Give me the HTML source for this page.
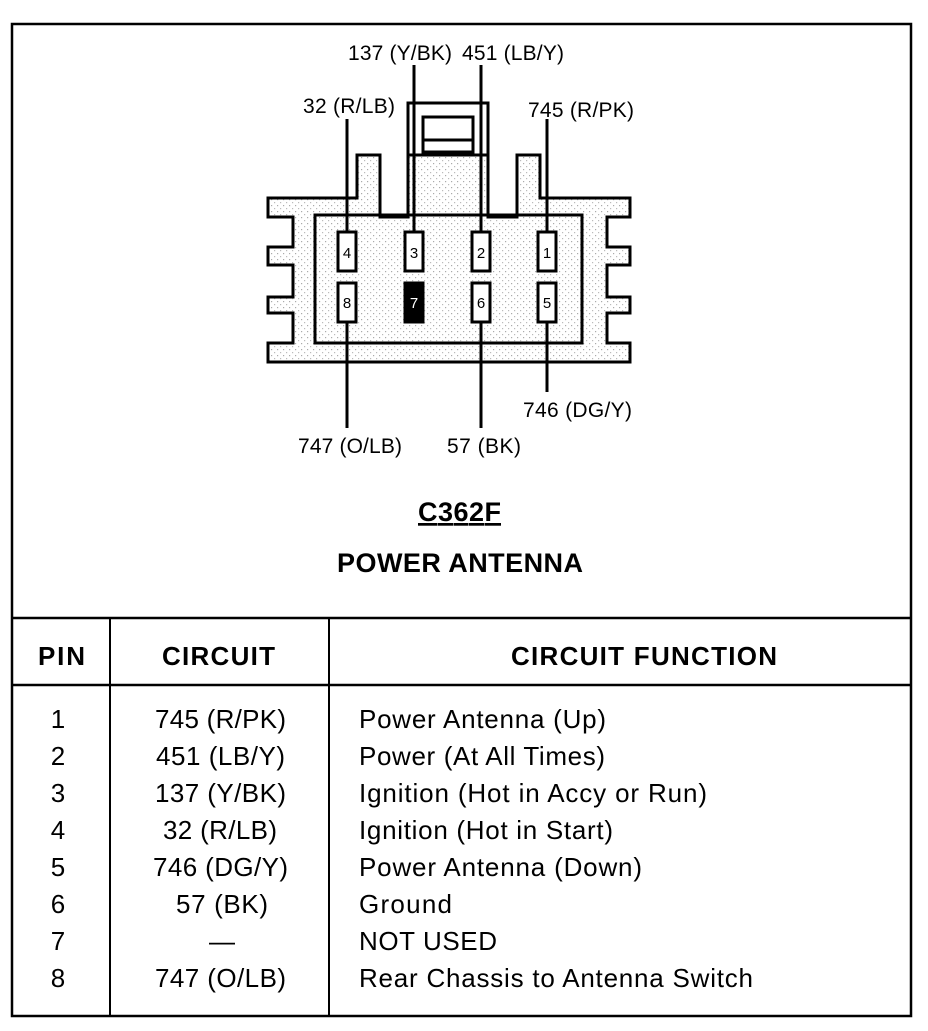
<!DOCTYPE html>
<html><head><meta charset="utf-8"><style>
html,body{margin:0;padding:0;background:#fff;}
svg text{font-family:"Liberation Sans",Arial,sans-serif;fill:#000;}
</style></head><body>
<svg width="928" height="1026" viewBox="0 0 928 1026" xmlns="http://www.w3.org/2000/svg">
<defs>
<pattern id="dots" width="6" height="6" patternUnits="userSpaceOnUse">
<rect width="6" height="6" fill="#fff"/><rect x="1" y="1" width="1.2" height="1.2" fill="#aaa"/><rect x="4" y="4" width="1.2" height="1.2" fill="#bbb"/>
</pattern>
</defs>
<rect x="12" y="24" width="899" height="992" fill="none" stroke="#000" stroke-width="2.5"/>
<line x1="12" y1="618" x2="911" y2="618" stroke="#000" stroke-width="2.5"/>
<line x1="12" y1="685" x2="911" y2="685" stroke="#000" stroke-width="2.5"/>
<line x1="110" y1="618" x2="110" y2="1016" stroke="#000" stroke-width="2"/>
<line x1="329" y1="618" x2="329" y2="1016" stroke="#000" stroke-width="2"/>

<path d="M268,198 H357 V155 H380 V217 H408 V155 H488 V217 H517 V155 H540 V198 H630 V217 H607 V247 H630 V265 H607 V297 H630 V313 H607 V343 H630 V362 H268 V343 H293 V313 H268 V297 H293 V265 H268 V247 H293 V217 H268 Z" fill="url(#dots)" stroke="#000" stroke-width="3"/>
<rect x="315" y="215" width="267" height="128" fill="none" stroke="#000" stroke-width="3"/>
<rect x="408" y="103" width="80" height="52" fill="none" stroke="#000" stroke-width="3"/>
<rect x="423" y="117" width="50" height="35" fill="#fff" stroke="#000" stroke-width="3"/>
<line x1="423" y1="140" x2="473" y2="140" stroke="#000" stroke-width="3"/>

<g stroke="#000" stroke-width="3">
<line x1="347" y1="119" x2="347" y2="232"/>
<line x1="414" y1="65" x2="414" y2="232"/>
<line x1="481" y1="65" x2="481" y2="232"/>
<line x1="547" y1="119" x2="547" y2="232"/>
<line x1="347" y1="322" x2="347" y2="428"/>
<line x1="481" y1="322" x2="481" y2="428"/>
<line x1="547" y1="322" x2="547" y2="392"/>
</g>
<g stroke="#000" stroke-width="3" fill="#fff">
<rect x="338" y="232" width="18" height="39"/>
<rect x="405" y="232" width="18" height="39"/>
<rect x="472" y="232" width="18" height="39"/>
<rect x="538" y="232" width="18" height="39"/>
<rect x="338" y="283" width="18" height="39"/>
<rect x="405" y="283" width="18" height="39" fill="#000"/>
<rect x="472" y="283" width="18" height="39"/>
<rect x="538" y="283" width="18" height="39"/>
</g>
<g font-size="15" text-anchor="middle">
<text x="347" y="258">4</text><text x="414" y="258">3</text><text x="481" y="258">2</text><text x="547" y="258">1</text>
<text x="347" y="308">8</text><text x="414" y="308" style="fill:#fff">7</text><text x="481" y="308">6</text><text x="547" y="308">5</text>
</g>

<g font-size="21">
<text x="348" y="60" textLength="104">137 (Y/BK)</text>
<text x="462" y="60" textLength="102">451 (LB/Y)</text>
<text x="303" y="113" textLength="92">32 (R/LB)</text>
<text x="528" y="117" textLength="106">745 (R/PK)</text>
<text x="523" y="417" textLength="109">746 (DG/Y)</text>
<text x="298" y="453" textLength="104">747 (O/LB)</text>
<text x="447" y="453" textLength="74">57 (BK)</text>
</g>
<text x="418" y="521" font-size="27" font-weight="bold" textLength="83" text-decoration="underline">C362F</text>
<text x="337" y="572" font-size="27" font-weight="bold" textLength="246">POWER ANTENNA</text>

<g font-size="26" font-weight="bold">
<text x="38" y="665" textLength="47">PIN</text>
<text x="162" y="665" textLength="113">CIRCUIT</text>
<text x="511" y="665" textLength="266">CIRCUIT FUNCTION</text>
</g>
<g font-size="26">
<g text-anchor="middle">
<text x="58" y="728">1</text><text x="58" y="765">2</text><text x="58" y="802">3</text><text x="58" y="839">4</text>
<text x="58" y="876">5</text><text x="58" y="913">6</text><text x="58" y="950">7</text><text x="58" y="987">8</text>
</g>
<text x="155" y="728" textLength="131">745 (R/PK)</text>
<text x="156" y="765" textLength="129">451 (LB/Y)</text>
<text x="155" y="802" textLength="131">137 (Y/BK)</text>
<text x="163" y="839" textLength="114">32 (R/LB)</text>
<text x="153" y="876" textLength="135">746 (DG/Y)</text>
<text x="176" y="913" textLength="92">57 (BK)</text>
<text x="209" y="950">—</text>
<text x="155" y="987" textLength="131">747 (O/LB)</text>
<text x="359" y="728" textLength="247">Power Antenna (Up)</text>
<text x="359" y="765" textLength="246">Power (At All Times)</text>
<text x="359" y="802" textLength="348">Ignition (Hot in Accy or Run)</text>
<text x="359" y="839" textLength="254">Ignition (Hot in Start)</text>
<text x="359" y="876" textLength="283">Power Antenna (Down)</text>
<text x="359" y="913" textLength="93">Ground</text>
<text x="359" y="950" textLength="138">NOT USED</text>
<text x="359" y="987" textLength="394">Rear Chassis to Antenna Switch</text>
</g>
</svg>
</body></html>
